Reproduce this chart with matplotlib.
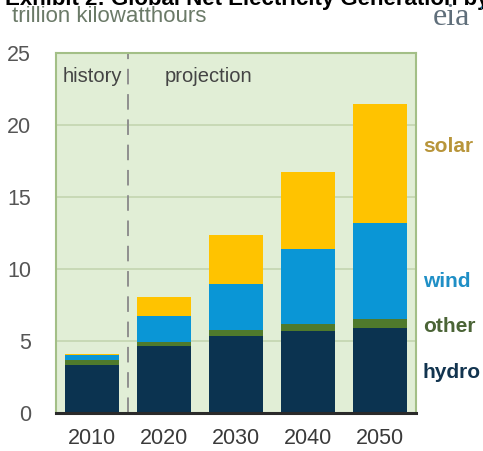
import matplotlib
matplotlib.use("Agg")
import matplotlib.pyplot as plt
import numpy as np

plt.rcParams['font.family'] = ['Liberation Sans', 'DejaVu Sans']

years = ['2010', '2020', '2030', '2040', '2050']
hydro = [3.3, 4.63, 5.33, 5.66, 5.88]
other = [0.4, 0.33, 0.44, 0.53, 0.65]
wind = [0.35, 1.8, 3.17, 5.17, 6.66]
solar = [0.03, 1.31, 3.45, 5.4, 8.28]
series_names = ['hydro', 'other', 'wind', 'solar']
series_colors = ['#0b3350', '#4f7a2c', '#0a96d6', '#ffc300']
label_colors = ['#12344f', '#4b6436', '#1f8fc6', '#b8953a']
label_y = [2.8, 6.0, 9.1, 18.5]

W, H = 483, 451
fig = plt.figure(figsize=(W / 100, H / 100), dpi=100)
fig.patch.set_facecolor('white')
ax = fig.add_axes([56 / W, 1 - 413 / H, 360 / W, 360 / H])
ax.set_facecolor('#e1eed6')

x = np.arange(len(years))
bottom = np.zeros(len(years))
for vals, c in zip([hydro, other, wind, solar], series_colors):
    ax.bar(x, vals, bottom=bottom, width=0.745, color=c, zorder=3)
    bottom += np.array(vals)

ax.set_xlim(-0.5, 4.5)
ax.set_ylim(0, 25)
ax.set_yticks([0, 5, 10, 15, 20, 25])
ax.set_xticks(x)
ax.set_xticklabels(years)
ax.tick_params(axis='both', length=0, labelsize=15.5, colors='#3a3a3a')
ax.tick_params(axis='y', pad=18, labelcolor='#555555')
ax.tick_params(axis='x', pad=11)
ax.yaxis.grid(True, color='#c3d5b0', linewidth=1.2, zorder=0)
ax.set_axisbelow(True)
for s in ['left', 'right', 'top']:
    ax.spines[s].set_color('#a3bf87')
    ax.spines[s].set_linewidth(1.5)
ax.spines['bottom'].set_color('#2a2a2a')
ax.spines['bottom'].set_linewidth(2.2)
ax.spines['bottom'].set_zorder(5)

ax.axvline(0.5, color='#8f8f8f', linewidth=1.4, linestyle=(0, (8, 5)), zorder=2)

ax.text(0.019, 0.935, 'history', transform=ax.transAxes, fontsize=14.5,
        color='#444444', ha='left', va='center')
ax.text(0.303, 0.935, 'projection', transform=ax.transAxes, fontsize=14.5,
        color='#444444', ha='left', va='center')

for name, c, yv in zip(series_names, label_colors, label_y):
    ax.text(1.019, yv, name, transform=ax.get_yaxis_transform(), fontsize=15,
            fontweight='bold', color=c, ha='left', va='center', clip_on=False)

fig.text(5 / W, 1 - 5 / H, 'Exhibit 2: Global Net Electricity Generation by Source',
         fontsize=16, fontweight='bold', color='black', ha='left', va='baseline')
fig.text(12 / W, 1 - 17 / H, 'trillion kilowatthours', fontsize=16,
         color='#6b7a68', ha='left', va='center')
fig.text(433 / W, 1 - 25 / H, 'eia', fontsize=23, family=['Liberation Serif', 'DejaVu Serif'],
         color='#5f6e7a', ha='left', va='baseline')
fig.text(479 / W, 1 - 6 / H, '\u02bc', fontsize=10, color='#3aa0d8', ha='left', va='top')

fig.savefig('out.png', dpi=100, facecolor='white')
